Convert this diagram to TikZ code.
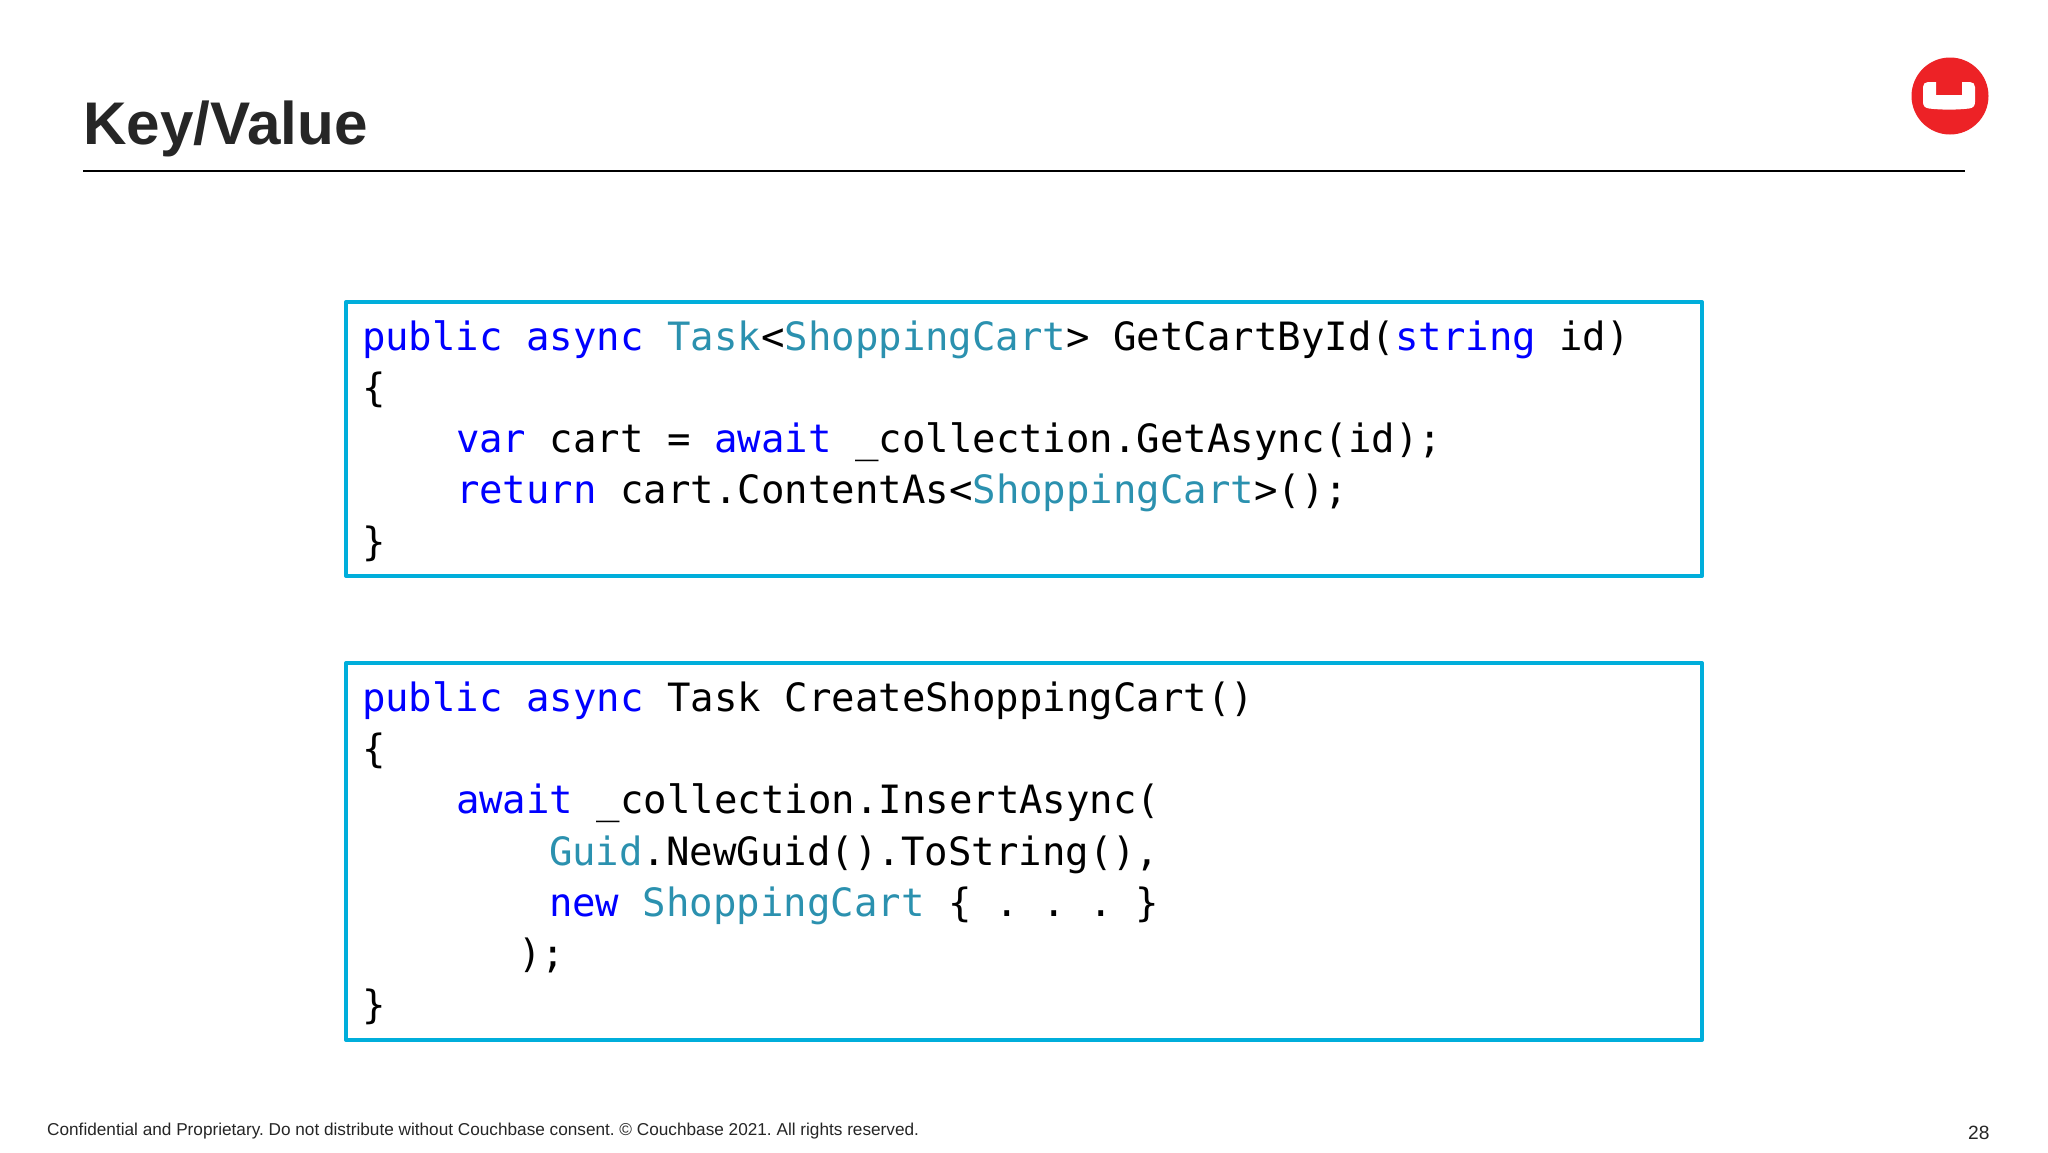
\documentclass[tikz,border=0pt]{standalone}
\usepackage{fontspec}
\setmainfont{Liberation Sans}
\newfontfamily\codefont{DejaVu Sans Mono}
\definecolor{kw}{HTML}{0000FF}
\definecolor{ty}{HTML}{2B91AF}
\definecolor{boxc}{HTML}{00AEDB}
\definecolor{logored}{HTML}{ED2226}
\definecolor{titlec}{HTML}{262626}
\newcommand{\K}[1]{\textcolor{kw}{#1}}
\newcommand{\Ty}[1]{\textcolor{ty}{#1}}
\tikzset{
  x=1pt,y=-1pt,
  codeline/.style={anchor=base west,inner sep=0pt,outer sep=0pt,text=black,font=\codefont\fontsize{39.0}{45}\selectfont\frenchspacing},
  codebox/.style={draw=boxc,line width=4pt,fill=white,line join=round},
  footer/.style={anchor=base west,inner sep=0pt,text=titlec,font=\fontsize{17.2}{20}\selectfont\frenchspacing},
}
\begin{document}
\begin{tikzpicture}
\useasboundingbox (0,0) rectangle (2048,1152);
\fill[white] (0,0) rectangle (2048,1152);
% title
\node[anchor=base west,inner sep=0pt,text=titlec,font=\bfseries\fontsize{60.2}{66}\selectfont] (title) at (83,144) {Key/Value};
\coordinate (ruleL) at (83,171);
\coordinate (ruleR) at (1965,171);
\draw[line width=2.2pt,black] (ruleL) -- (ruleR);
% logo
\fill[logored] (1950,96) circle (38.5);
\fill[white] (1936,82) -- (1928,82)
  .. controls (1925,82) and (1923,84) .. (1923,87) -- (1923,102)
  .. controls (1923,106) and (1925,108) .. (1929,108.5)
  .. controls (1942,110) and (1956,110) .. (1969,108.5)
  .. controls (1973,108) and (1975,106) .. (1975,102) -- (1975,87)
  .. controls (1975,84) and (1973,82) .. (1970,82) -- (1962,82) -- (1962,95) -- (1936,95) -- cycle;
% boxes
\draw[codebox] (346,302) rectangle (1702,576);
\draw[codebox] (346,663) rectangle (1702,1040);
% first box
\node[codeline] (a1) at (362,350) {\K{public} \K{async} \Ty{Task}<\Ty{ShoppingCart}> GetCartById(\K{string} id)};
\node[codeline] (a2) at (362,401) {\{};
\node[codeline] (a3) at (456,452) {\K{var} cart = \K{await} \_collection.GetAsync(id);};
\node[codeline] (a4) at (456,503) {\K{return} cart.ContentAs<\Ty{ShoppingCart}>();};
\node[codeline] (a5) at (362,555) {\}};
% second box
\node[codeline] (b1) at (362,711) {\K{public} \K{async} Task CreateShoppingCart()};
\node[codeline] (b2) at (362,762) {\{};
\node[codeline] (b3) at (456,813) {\K{await} \_collection.InsertAsync(};
\node[codeline] (b4) at (549,865) {\Ty{Guid}.NewGuid().ToString(),};
\node[codeline] (b5) at (549,916) {\K{new} \Ty{ShoppingCart} \{ . . . \}};
\node[codeline] (b6) at (518,967) {);};
\node[codeline] (b7) at (362,1018) {\}};
% footer
\node[footer] (foot) at (47,1135) {Confidential and Proprietary. Do not distribute without Couchbase consent. © Couchbase 2021. All rights reserved.};
\node[footer,font=\fontsize{19.2}{22}\selectfont] (page) at (1968,1139) {28};
\end{tikzpicture}
\end{document}
